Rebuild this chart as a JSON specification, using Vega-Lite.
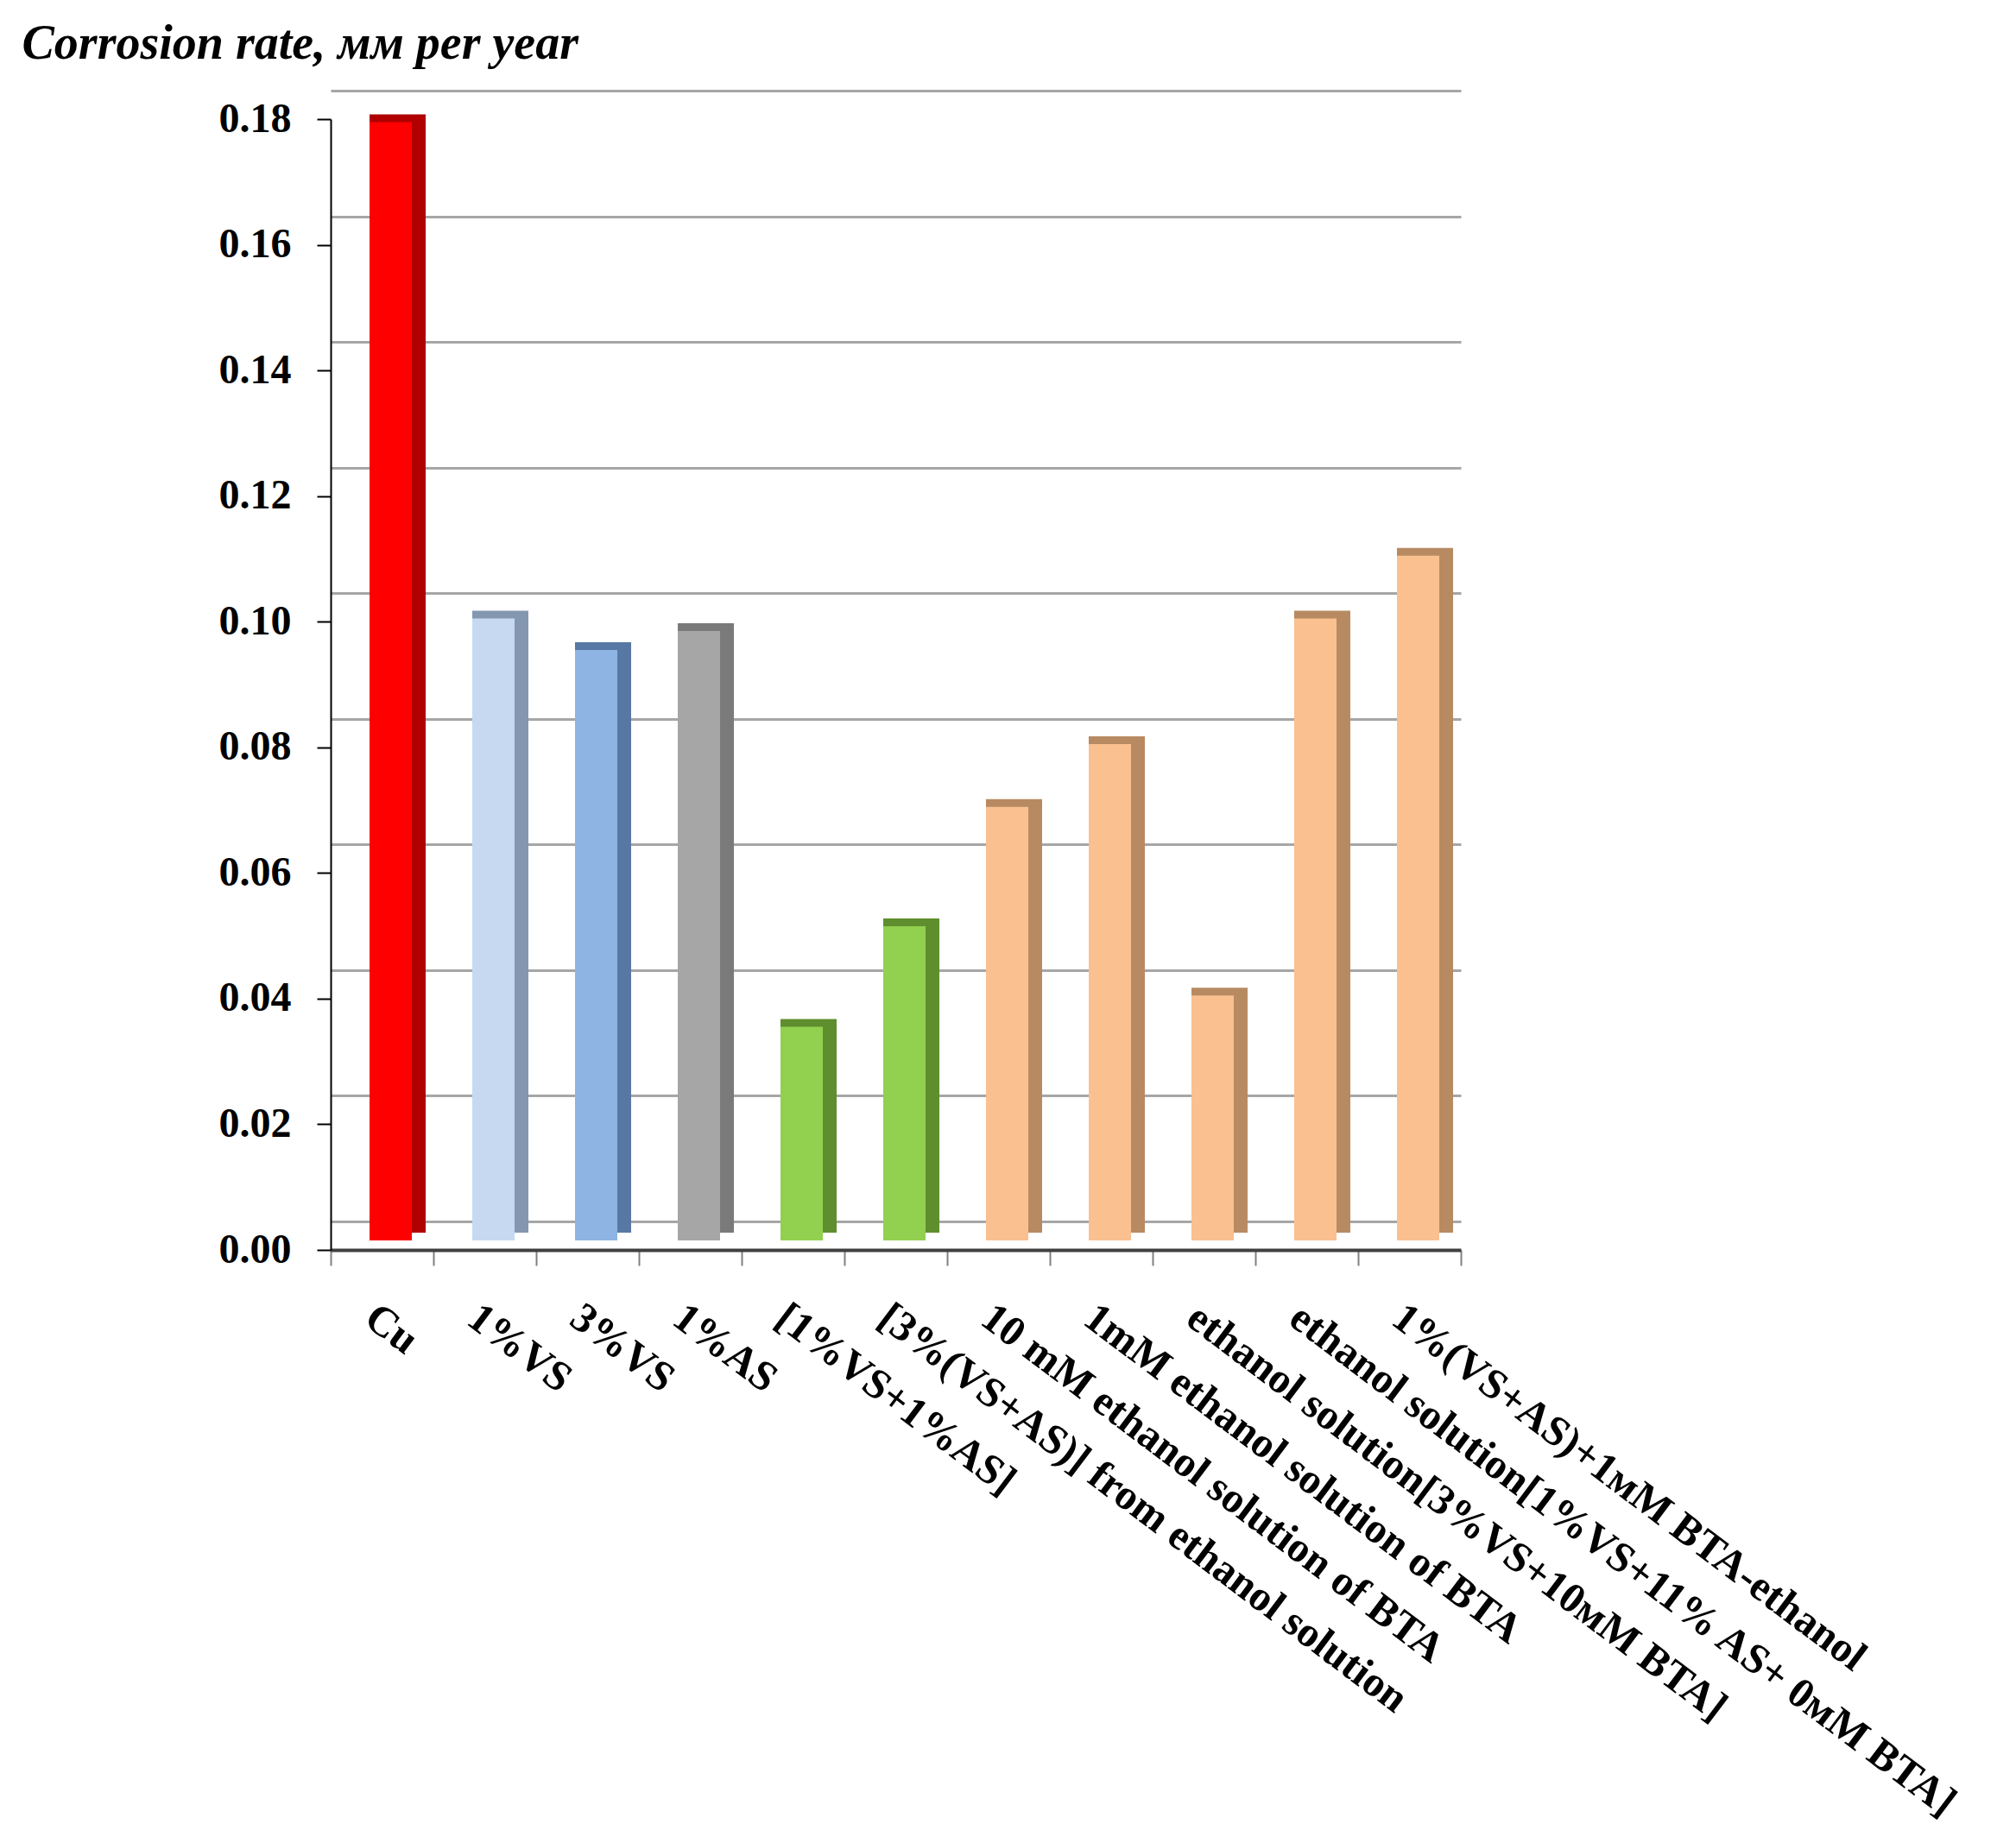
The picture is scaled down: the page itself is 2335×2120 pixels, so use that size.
{
  "$schema": "https://vega.github.io/schema/vega-lite/v6.json",
  "autosize": "none",
  "width": 1309,
  "height": 1310,
  "padding": {"left": 383, "top": 138, "right": 643, "bottom": 672},
  "background": "white",
  "config": {
    "view": {"stroke": null},
    "font": "Liberation Serif"
  },
  "data": {
    "values": [
      {"name": "Cu", "group": "Cu", "rate": 0.178},
      {"name": "1%VS", "group": "1%VS", "rate": 0.099},
      {"name": "3%VS", "group": "3%VS", "rate": 0.094},
      {"name": "1%AS", "group": "1%AS", "rate": 0.097},
      {"name": "[1%VS+1%AS]", "group": "VS+AS", "rate": 0.034},
      {"name": "[3%(VS+AS)] from ethanol solution", "group": "VS+AS", "rate": 0.050},
      {"name": "10 mM ethanol solution of BTA", "group": "BTA", "rate": 0.069},
      {"name": "1mM ethanol solution of BTA", "group": "BTA", "rate": 0.079},
      {"name": "ethanol solution[3%VS+10мМ BTA]", "group": "BTA", "rate": 0.039},
      {"name": "ethanol solution[1%VS+11% AS+ 0мМ BTA]", "group": "BTA", "rate": 0.099},
      {"name": "1%(VS+AS)+1мМ BTA-ethanol", "group": "BTA", "rate": 0.109}
    ]
  },
  "encoding": {
    "x": {
      "field": "name",
      "type": "nominal",
      "sort": null,
      "scale": {"paddingInner": 0, "paddingOuter": 0},
      "axis": {
        "title": null,
        "tickBand": "extent",
        "tickSize": 18,
        "tickWidth": 2,
        "tickColor": "#808080",
        "domainColor": "#404040",
        "domainWidth": 4,
        "labelAngle": 37,
        "labelAlign": "left",
        "labelBaseline": "top",
        "labelPadding": 35,
        "labelFont": "Liberation Serif",
        "labelFontSize": 49,
        "labelFontWeight": "bold",
        "labelColor": "black",
        "labelLimit": 3000,
        "labelOverlap": false
      }
    },
    "y": {
      "field": "rate",
      "type": "quantitative",
      "scale": {"domain": [0, 0.18], "nice": false, "zero": true}
    }
  },
  "layer": [
    {
      "mark": {"type": "bar", "width": 65, "xOffset": 18, "yOffset": -20},
      "encoding": {
        "y": {
          "field": "rate",
          "type": "quantitative",
          "axis": {
            "orient": "left",
            "values": [0, 0.02, 0.04, 0.06, 0.08, 0.1, 0.12, 0.14, 0.16, 0.18],
            "format": ".2f",
            "grid": false,
            "domain": true,
            "domainColor": "black",
            "domainWidth": 2,
            "ticks": true,
            "tickSize": 16,
            "tickWidth": 2,
            "tickColor": "black",
            "labelPadding": 30,
            "labelFont": "Liberation Serif",
            "labelFontSize": 48,
            "labelFontWeight": "bold",
            "labelColor": "black",
            "title": "Corrosion rate, мм per year",
            "titleAngle": 0,
            "titleX": -358,
            "titleY": -71,
            "titleAlign": "left",
            "titleBaseline": "alphabetic",
            "titleFont": "Liberation Serif",
            "titleFontSize": 56,
            "titleFontStyle": "italic",
            "titleFontWeight": "bold",
            "titleColor": "black"
          }
        },
        "fill": {
          "field": "group",
          "type": "nominal",
          "legend": null,
          "scale": {
            "domain": ["Cu", "1%VS", "3%VS", "1%AS", "VS+AS", "BTA"],
            "range": ["#B00000", "#8497B0", "#5878A4", "#7A7A7A", "#5F8E2E", "#B88A62"]
          }
        }
      }
    },
    {
      "mark": {"type": "bar", "width": 49, "xOffset": 10, "yOffset": -11},
      "encoding": {
        "y": {
          "field": "rate",
          "type": "quantitative",
          "axis": {
            "orient": "right",
            "values": [0, 0.02, 0.04, 0.06, 0.08, 0.1, 0.12, 0.14, 0.16, 0.18],
            "grid": true,
            "gridColor": "#A6A6A6",
            "gridWidth": 3,
            "tickOffset": -33,
            "labels": false,
            "ticks": false,
            "domain": false,
            "title": null
          }
        },
        "color": {
          "field": "group",
          "type": "nominal",
          "legend": null,
          "scale": {
            "domain": ["Cu", "1%VS", "3%VS", "1%AS", "VS+AS", "BTA"],
            "range": ["#FF0000", "#C6D9F1", "#8DB4E2", "#A6A6A6", "#92D050", "#FAC090"]
          }
        }
      }
    }
  ],
  "resolve": {"axis": {"y": "independent"}}
}
